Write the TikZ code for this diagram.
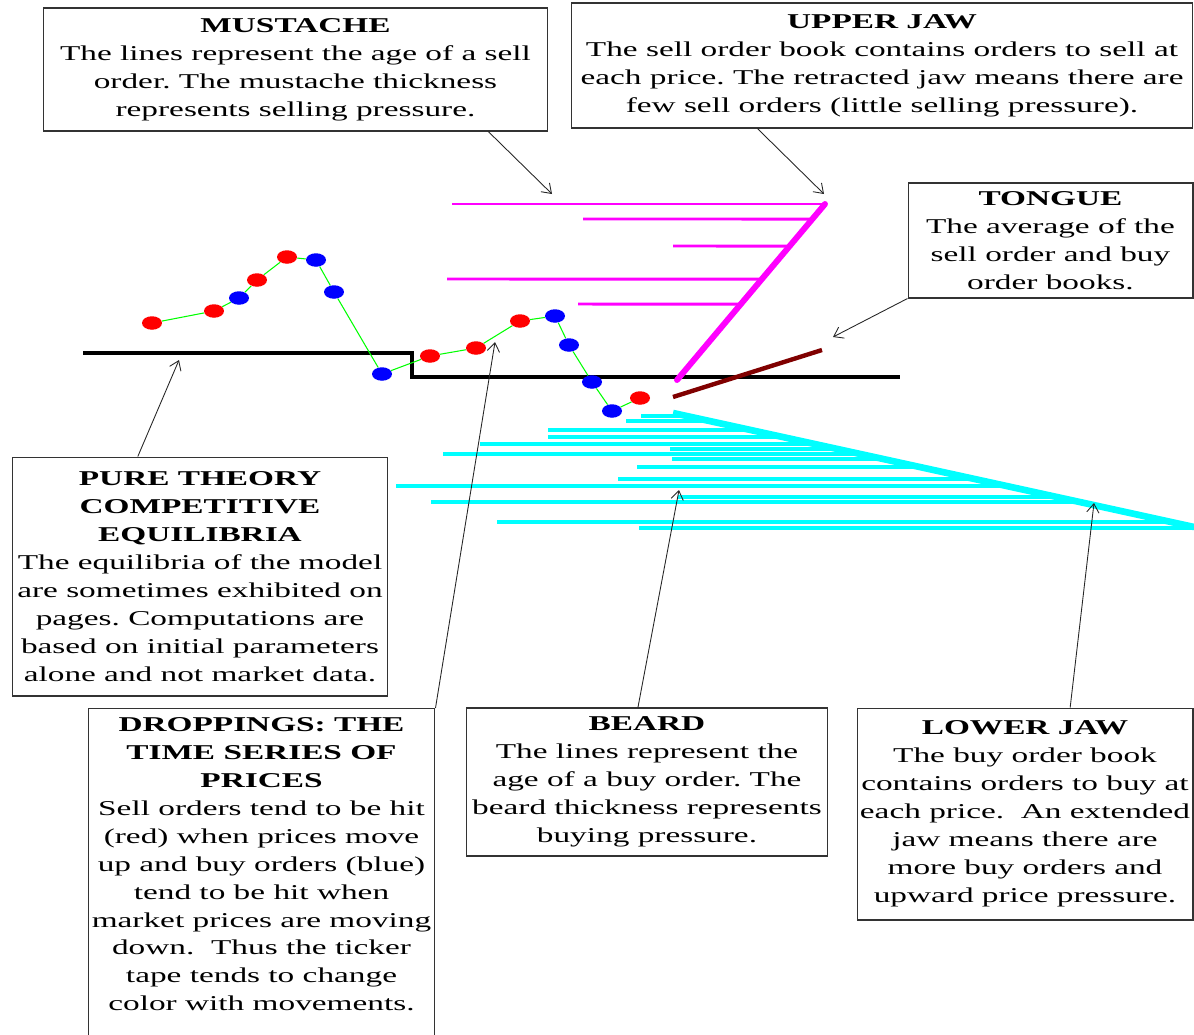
\documentclass[tikz,border=0pt]{standalone}
\usepackage{fontspec}
\setmainfont{Liberation Serif}[FakeStretch=1.58]
\usetikzlibrary{arrows.meta,calc,shapes.geometric}
\definecolor{tonguered}{RGB}{128,0,0}
\definecolor{sellpink}{RGB}{255,0,255}
\definecolor{buycyan}{RGB}{0,255,255}
\definecolor{hitred}{RGB}{255,0,0}
\definecolor{hitblue}{RGB}{0,0,255}
\definecolor{tapegreen}{RGB}{0,255,0}
\frenchspacing
\tikzset{
  notebox/.style={
    rectangle, draw=black!80, line width=0.6pt,
    align=center, inner sep=0pt, font=\fontsize{12}{15.9}\selectfont
  },
  callout/.style={-{Straight Barb[length=5pt,width=7pt]}, line width=0.5pt, draw=black!85},
  pricedot/.style={ellipse, minimum width=0.4cm, minimum height=0.27cm, inner sep=0pt},
  tape/.style={draw=tapegreen, line width=0.6pt},
  floorline/.style={draw=black, line width=2.2pt},
  sellline/.style={draw=sellpink, line width=1.7pt},
  buyline/.style={draw=buycyan, line width=2.2pt},
}

\begin{document}
\begin{tikzpicture}[x=0.02cm, y=-0.02cm]
  \useasboundingbox (0,0) rectangle (1194,1035);

  % explanation boxes
  \node (must) [notebox, minimum width=10.1cm, minimum height=2.46cm] at (295.5,69.5)
    {\textbf{MUSTACHE}\\The lines represent the age of a sell\\order. The mustache thickness\\represents selling pressure.};
  \node (upjaw) [notebox, minimum width=12.44cm, minimum height=2.5cm] at (882,65.5)
    {\textbf{UPPER JAW}\\The sell order book contains orders to sell at\\each price. The retracted jaw means there are\\few sell orders (little selling pressure).};
  \node (tongue) [notebox, minimum width=5.7cm, minimum height=2.3cm] at (1050.5,240.5)
    {\textbf{TONGUE}\\The average of the\\sell order and buy\\order books.};
  \node (pure) [notebox, minimum width=7.52cm, minimum height=4.78cm] at (200,576.5)
    {\textbf{PURE THEORY}\\\textbf{COMPETITIVE}\\\textbf{EQUILIBRIA}\\The equilibria of the model\\are sometimes exhibited on\\pages. Computations are\\based on initial parameters\\alone and not market data.};
  \node (dropsbox) [notebox, anchor=north, minimum width=6.94cm, minimum height=8cm] at (261.5,708) {};
  \node (drops) [notebox, draw=none, anchor=north] at (dropsbox.north) [yshift=-0.18cm]
    {\textbf{DROPPINGS: THE}\\\textbf{TIME SERIES OF}\\\textbf{PRICES}\\Sell orders tend to be hit\\(red) when prices move\\up and buy orders (blue)\\tend to be hit when\\market prices are moving\\down.\ \ Thus the ticker\\tape tends to change\\color with movements.};
  \node (beard) [notebox, minimum width=7.24cm, minimum height=2.96cm] at (647,782)
    {\textbf{BEARD}\\The lines represent the\\age of a buy order. The\\beard thickness represents\\buying pressure.};
  \node (lowjaw) [notebox, minimum width=6.72cm, minimum height=4.24cm] at (1025,814)
    {\textbf{LOWER JAW}\\The buy order book\\contains orders to buy at\\each price.\ \ An extended\\jaw means there are\\more buy orders and\\upward price pressure.};

  % competitive equilibrium floor
  \draw[floorline] (83,353) -- (412,353) -- (412,377) -- (900,377);

  % upper jaw and mustache
  \coordinate (upBot) at (677,380);
  \coordinate (upTop) at (825,204);
  \foreach \x/\y in {452/204, 583/219, 673/246, 447/279, 578/304}
    \draw[sellline] (\x,\y) -- ($(upBot)!{(380-\y)/176}!(upTop)$);
  \draw[sellline, line width=3.4pt, line cap=round] (upBot) -- (upTop);

  % lower jaw and beard
  \coordinate (lowTop) at (673,413);
  \coordinate (lowBot) at (1194,527);
  \foreach \x/\y in {641/416, 626/421, 548/430, 548/437, 480/444, 670/449, 443/454, 672/459,
                     637/467, 618/479, 396/486, 678/497, 431/502, 497/522, 639/528}
    \draw[buyline] (\x,\y) -- ($(lowTop)!{(\y-413)/114}!(lowBot)$);
  \draw[buyline, line width=3.8pt] (lowTop) -- (lowBot);

  % tongue
  \draw[draw=tonguered, line width=2.5pt] (673,397) -- (822,350);

  % ticker tape
  \foreach \x/\y/\c [count=\i] in {152/323/hitred, 214/311/hitred, 239/298/hitblue, 257/280/hitred,
      287/257/hitred, 316/260/hitblue, 334/292/hitblue, 382/374/hitblue, 430/356/hitred, 476/348/hitred,
      520/321/hitred, 555/316/hitblue, 569/345/hitblue, 592/382/hitblue, 612/411/hitblue, 640/398/hitred}
    \node (p\i) [pricedot, fill=\c] at (\x,\y) {};
  \foreach \i [evaluate=\i as \j using int(\i+1)] in {1,...,15}
    \draw[tape] (p\i) -- (p\j);

  % callout arrows
  \coordinate (mustTip) at (552,194);
  \coordinate (upTip) at (824,194);
  \coordinate (tongueTip) at (833,337);
  \coordinate (floorTip) at (179,360);
  \coordinate (tapeTip) at (495,342);
  \coordinate (beardTip) at (679,490);
  \coordinate (lowTip) at (1094,503);
  \draw[callout] ($(must.south west)!0.881!(must.south east)$) -- (mustTip);
  \draw[callout] ($(upjaw.south west)!0.30!(upjaw.south east)$) -- (upTip);
  \draw[callout] (tongue.south west) -- (tongueTip);
  \draw[callout] ($(pure.north west)!0.335!(pure.north east)$) -- (floorTip);
  \draw[callout] (dropsbox.north east) -- (tapeTip);
  \draw[callout] ($(beard.north west)!0.475!(beard.north east)$) -- (beardTip);
  \draw[callout] ($(lowjaw.north west)!0.634!(lowjaw.north east)$) -- (lowTip);
\end{tikzpicture}
\end{document}
